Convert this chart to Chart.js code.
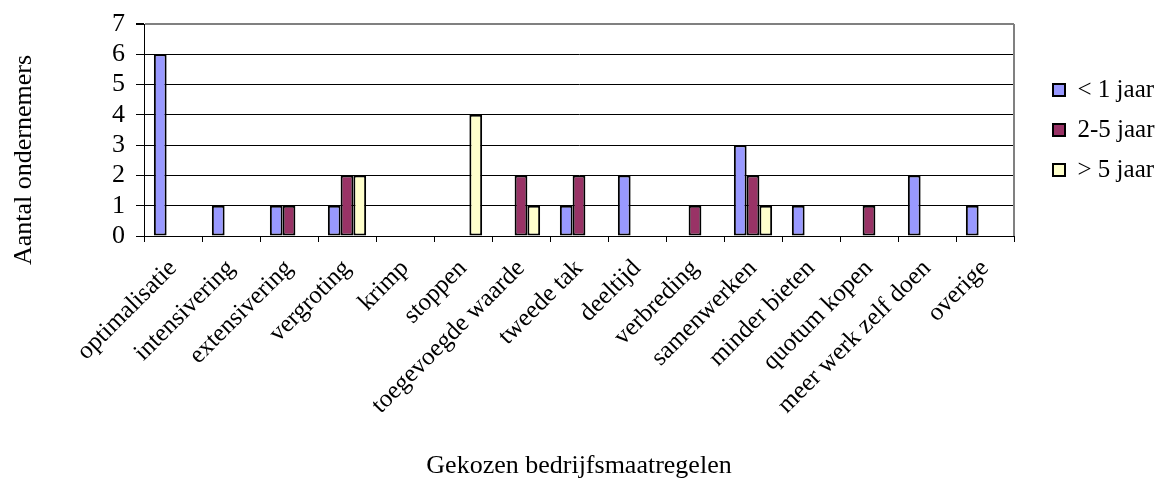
<!DOCTYPE html>
<html>
<head>
<meta charset="utf-8">
<script src="https://cdn.jsdelivr.net/npm/chart.js@4/dist/chart.umd.min.js"></script>
<style>
  html, body { margin: 0; padding: 0; background: #fff; }
  #wrap { width: 1165px; height: 482px; }
</style>
</head>
<body>
<div id="wrap"><canvas id="diagram" width="1165" height="482"></canvas></div>
<script>
var categories = ['optimalisatie', 'intensivering', 'extensivering', 'vergroting', 'krimp', 'stoppen',
  'toegevoegde waarde', 'tweede tak', 'deeltijd', 'verbreding', 'samenwerken', 'minder bieten',
  'quotum kopen', 'meer werk zelf doen', 'overige'];
var seriesNames = ['< 1 jaar', '2-5 jaar', '> 5 jaar'];
var lessThan1 = [6, 1, 1, 1, 0, 0, 0, 1, 2, 0, 3, 1, 0, 2, 1];
var from2to5  = [0, 0, 1, 2, 0, 0, 2, 2, 0, 1, 2, 0, 1, 0, 0];
var moreThan5 = [0, 0, 0, 2, 0, 4, 1, 0, 0, 0, 1, 0, 0, 0, 0];
var yTicks = [0, 1, 2, 3, 4, 5, 6, 7];
var xTitle = 'Gekozen bedrijfsmaatregelen';
var yTitle = 'Aantal ondernemers';

var colors = ['#9999ff', '#993366', '#ffffcc'];
var font = 'Liberation Serif';

// fixed legend column, shifted a bit to the right
var legendBox = {
  id: 'legendBox',
  beforeLayout: function(chart) {
    var lg = chart.legend;
    if (lg && !lg._wrapped) {
      var fit = lg.fit;
      lg.fit = function() { fit.call(this); this.width = 151; };
      lg._wrapped = true;
    }
  },
  afterLayout: function(chart) {
    chart.legend.left += 24;
    chart.legend.right += 24;
  }
};

// grey frame on the right + y title (sits lower than the axis middle)
var frame = {
  id: 'frame',
  afterDraw: function(chart) {
    var a = chart.chartArea, ctx = chart.ctx;
    ctx.save();
    ctx.strokeStyle = '#808080';
    ctx.lineWidth = 2;
    ctx.beginPath();
    ctx.moveTo(a.right, a.top);
    ctx.lineTo(a.right, a.bottom);
    ctx.stroke();

    ctx.translate(24, 160);
    ctx.rotate(-Math.PI / 2);
    ctx.fillStyle = '#000';
    ctx.font = '26px "' + font + '"';
    ctx.textAlign = 'center';
    ctx.textBaseline = 'middle';
    ctx.fillText(yTitle, 0, 0);
    ctx.restore();
  }
};

var diagram = document.getElementById('diagram').getContext('2d');
var chart = new Chart(diagram, {
  type: 'bar',
  data: {
    labels: categories,
    datasets: [lessThan1, from2to5, moreThan5].map(function(d, i) {
      return {
        label: seriesNames[i],
        data: d,
        backgroundColor: colors[i],
        borderColor: '#000',
        borderWidth: 2,
        borderSkipped: false,
        categoryPercentage: 0.66,
        barPercentage: 1.0
      };
    })
  },
  options: {
    responsive: false,
    animation: false,
    devicePixelRatio: 1,
    layout: { padding: { top: 20, right: 0, left: 0, bottom: 0 } },
    plugins: {
      legend: {
        position: 'right',
        fullSize: false,
        labels: {
          font: { family: font, size: 25 },
          color: '#000',
          boxWidth: 12,
          boxHeight: 12,
          padding: 15,
          useBorderRadius: false
        }
      },
      tooltip: { enabled: false }
    },
    scales: {
      x: {
        afterFit: function(s) { s.height = 246; },
        grid: { display: true, drawOnChartArea: false, drawTicks: true, tickLength: 6, color: '#000' },
        border: { color: '#000' },
        ticks: { font: { family: font, size: 25 }, color: '#000', maxRotation: 45, minRotation: 45, autoSkip: false, padding: 12 },
        title: { display: true, text: xTitle, font: { family: font, size: 26 }, color: '#000', padding: { top: 0, bottom: 0 } }
      },
      y: {
        min: 0,
        max: 7,
        afterFit: function(s) { s.width = 144; },
        afterBuildTicks: function(s) { s.ticks = yTicks.map(function(v) { return { value: v }; }); },
        grid: {
          color: function(c) { return c.tick && c.tick.value === 7 ? '#808080' : '#000'; },
          lineWidth: function(c) { return c.tick && c.tick.value === 7 ? 2 : 1; },
          tickLength: 8,
          tickColor: '#000'
        },
        border: { color: '#000' },
        ticks: { font: { family: font, size: 26, lineHeight: 1 }, color: '#000', padding: 11, autoSkip: false },
        title: { display: false }
      }
    }
  },
  plugins: [legendBox, frame]
});
</script>
</body>
</html>
